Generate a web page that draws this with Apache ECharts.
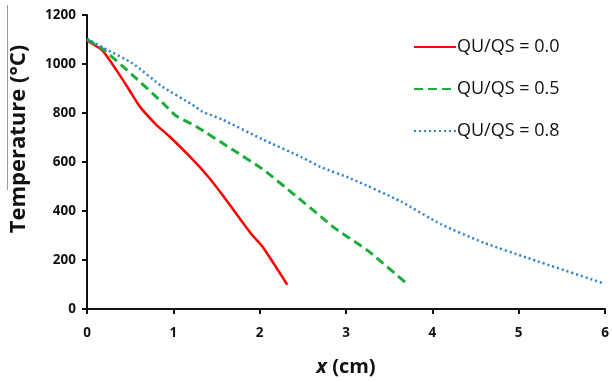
<!DOCTYPE html>
<html>
<head>
<meta charset="utf-8">
<script src="https://cdn.jsdelivr.net/npm/echarts@6/dist/echarts.min.js"></script>
<style>html,body{margin:0;padding:0;background:#fff}#c{width:612px;height:382px}</style>
</head>
<body>
<div id="c"></div>
<script>
const seriesNames = ['QU/QS = 0.0', 'QU/QS = 0.5', 'QU/QS = 0.8'];
const xTicks = [0, 1, 2, 3, 4, 5, 6];
const yTicks = [0, 200, 400, 600, 800, 1000, 1200];

const red00 = [[0,1095],[0.18,1055],[0.35,970],[0.49,894],[0.61,827],[0.8,753],[0.95,706],[1.22,612],[1.41,538],[1.6,451],[1.91,303],[2.03,256],[2.32,99]];
const green05 = [[0,1100],[0.18,1062],[0.53,954],[0.875,842],[1.03,789],[1.26,746],[1.68,652],[2.03,572],[2.41,464],[2.71,377],[2.87,330],[3.26,236],[3.72,99]];
const blue08 = [[0,1103],[0.18,1068],[0.53,1002],[0.875,907],[1.22,834],[1.34,805],[1.57,773],[2.03,693],[2.49,619],[2.71,579],[3.06,532],[3.64,438],[4.1,346],[4.6,270],[5.1,209],[5.98,105]];

const font = 'Open Sans';
const chart = echarts.init(document.getElementById('c'), null, {renderer: 'canvas'});
chart.setOption({
  animation: false,
  backgroundColor: '#fff',
  grid: {left: 84, right: 7, top: 15, bottom: 70, containLabel: false},
  legend: {
    orient: 'vertical',
    left: 408,
    top: 33,
    itemWidth: 42,
    itemHeight: 14,
    itemGap: 24,
    itemStyle: {opacity: 0},
    textStyle: {fontFamily: font, fontSize: 18, color: '#111', padding: [0,0,0,-4]},
    data: seriesNames
  },
  xAxis: {
    type: 'value', min: 0, max: 6, interval: 1,
    name: '{i|x} (cm)', nameLocation: 'middle', nameGap: 48,
    nameTextStyle: {
      fontFamily: font, fontSize: 20, fontWeight: 'bold', color: '#111',
      rich: {i: {fontFamily: font, fontSize: 20, fontWeight: 'bold', fontStyle: 'italic', color: '#111'}}
    },
    axisLine: {show: true, lineStyle: {color: '#111', width: 2}},
    axisTick: {show: true, length: 5, lineStyle: {color: '#111', width: 2}},
    axisLabel: {fontFamily: font, fontSize: 13.5, fontWeight: 'bold', color: '#111', margin: 17,
      formatter: v => xTicks.includes(v) ? String(v) : ''},
    splitLine: {show: false}
  },
  yAxis: {
    type: 'value', min: 0, max: 1200, interval: 200,
    name: 'Temperature (°C)', nameLocation: 'middle', nameGap: 57, nameRotate: 90,
    nameTextStyle: {fontFamily: font, fontSize: 22, fontWeight: 'bold', color: '#111', padding: [0, 0, 0, 46]},
    axisLine: {show: true, lineStyle: {color: '#111', width: 2}},
    axisTick: {show: true, length: 5, lineStyle: {color: '#111', width: 2}},
    axisLabel: {fontFamily: font, fontSize: 13.5, fontWeight: 'bold', color: '#111', margin: 11,
      formatter: v => yTicks.includes(v) ? String(v) : ''},
    splitLine: {show: false}
  },
  graphic: [{
    type: 'line', shape: {x1: 7.5, y1: 5, x2: 7.5, y2: 190},
    style: {stroke: '#999', lineWidth: 1}, silent: true
  }],
  series: [
    {name: seriesNames[0], type: 'line', data: red00, smooth: 0.2, symbol: 'none',
     lineStyle: {color: '#ff0000', width: 2.5, type: 'solid'}, itemStyle: {color: '#ff0000'}},
    {name: seriesNames[1], type: 'line', data: green05, smooth: 0.2, symbol: 'none',
     lineStyle: {color: '#1aad3c', width: 3, type: [9, 5]}, itemStyle: {color: '#1aad3c'}},
    {name: seriesNames[2], type: 'line', data: blue08, smooth: 0.2, symbol: 'none',
     lineStyle: {color: '#2a7fd4', width: 2.5, type: [2, 3]}, itemStyle: {color: '#2a7fd4'}}
  ]
});
</script>
</body>
</html>
